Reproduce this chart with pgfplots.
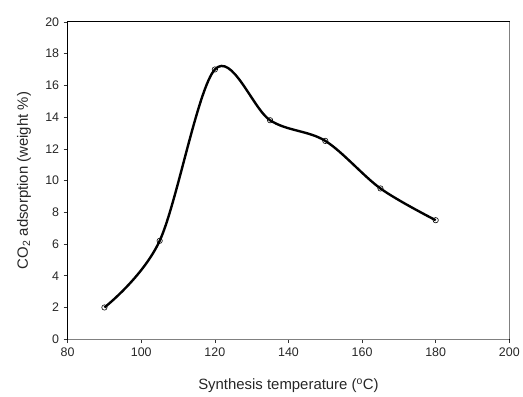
\documentclass[border=0pt]{standalone}
\usepackage{fontspec}
\setmainfont{Liberation Sans}
\usepackage{pgfplots}
\pgfplotsset{compat=1.18}
\begin{document}
\begin{tikzpicture}[x=1pt,y=1pt]
\begin{axis}[
  at={(68pt,56pt)}, anchor=south west,
  scale only axis,
  width=444pt, height=319pt,
  xmin=80, xmax=200, ymin=0, ymax=20,
  xtick={80,100,...,200}, ytick={0,2,...,20},
  tick align=outside, tick pos=left,
  major tick length=4pt,
  axis line style={line width=0.8pt},
  tick style={black!80, line width=0.6pt},
  every tick label/.append style={font=\fontsize{12.5}{14}\selectfont, text=black!85},
  /pgf/number format/assume math mode=true,
  xticklabel style={yshift=-1pt},
  yticklabel style={xshift=-1pt},
  xlabel={Synthesis temperature (\textsuperscript{o}C)},
  ylabel={CO\textsubscript{2} adsorption (weight \%)},
  label style={font=\fontsize{15}{17}\selectfont, text=black!85},
  xlabel style={at={(axis description cs:0.5,0)}, anchor=base, yshift=-51pt},
  ylabel style={at={(axis description cs:-0.0901,0.5)}, anchor=base},
  clip=false,
]
\addplot[black, line width=2.4pt, smooth, tension=0.55,
  mark=o, mark size=2.7pt,
  mark options={fill=white, line width=0.6pt, solid}]
  coordinates {(90,2.0) (105,6.2) (120,17.0) (135,13.8) (150,12.5) (165,9.5) (180,7.5)};
\draw[gray, line width=1.2pt] (axis description cs:0,0) -- (axis description cs:1,0);
\draw[gray, line width=1.6pt] (axis description cs:1,0) -- (axis description cs:1,1);
\end{axis}
\useasboundingbox (0,0) rectangle (523,397);
\end{tikzpicture}
\end{document}
